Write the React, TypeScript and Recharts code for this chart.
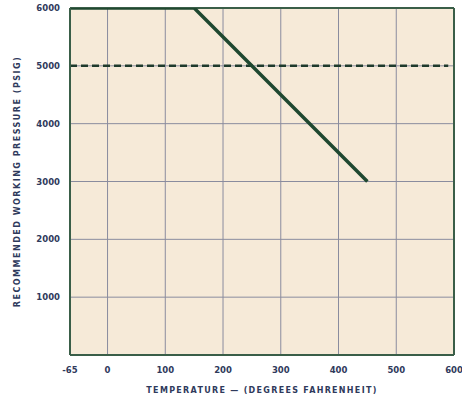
import React from 'react';
import { LineChart, Line, XAxis, YAxis, CartesianGrid, Label, ReferenceLine } from 'recharts';

// Temperature (°F) ticks and pressure (psig) ticks
const temperatureTicks = [-65, 0, 100, 200, 300, 400, 500, 600];
const pressureTicks = [1000, 2000, 3000, 4000, 5000, 6000];

// Recommended working pressure curve
const curveTemps = [-65, 150, 450];
const curvePressures = [6000, 6000, 3000];

// Dashed rated pressure line
const ratedTemps = [-65, 590];
const ratedPressures = [5000, 5000];

const curveData = curveTemps.map((t, i) => ({ t, p: curvePressures[i] }));
const ratedData = ratedTemps.map((t, i) => ({ t, p: ratedPressures[i] }));

const textColor = '#2f3a5c';
const frameColor = '#3a5e48';
const tickStyle = { fontFamily: 'DejaVu Sans', fontSize: 8.5, fontWeight: 'bold', fill: textColor };

export default function App() {
  return (
    <div style={{ position: 'absolute', left: 0, top: 0, width: 462, height: 398, background: '#fff' }}>
      <LineChart width={462} height={398} margin={{ top: 8, right: 8, left: 0, bottom: 0 }}>
        <CartesianGrid
          stroke="#8a8c9e"
          strokeWidth={1}
          fill="#f6ead8"
          horizontalValues={[1000, 2000, 3000, 4000, 5000]}
          verticalValues={[0, 100, 200, 300, 400, 500]}
        />
        <XAxis
          type="number"
          dataKey="t"
          domain={[-65, 600]}
          ticks={temperatureTicks}
          allowDataOverflow
          height={43}
          axisLine={{ stroke: frameColor, strokeWidth: 2 }}
          tickLine={false}
          tick={tickStyle}
          tickMargin={6}
        >
          <Label
            value="TEMPERATURE — (DEGREES FAHRENHEIT)"
            position="insideBottom"
            offset={5}
            style={{ fontFamily: 'DejaVu Sans', fontSize: 8, fontWeight: 'bold', letterSpacing: 1.3, fill: textColor }}
          />
        </XAxis>
        <YAxis
          type="number"
          domain={[0, 6000]}
          ticks={pressureTicks}
          allowDataOverflow
          width={70}
          axisLine={{ stroke: frameColor, strokeWidth: 2 }}
          tickLine={false}
          tick={tickStyle}
          tickMargin={4}
        >
          <Label
            value="RECOMMENDED WORKING PRESSURE (PSIG)"
            angle={-90}
            position="insideLeft"
            offset={17}
            style={{ textAnchor: 'middle', fontFamily: 'DejaVu Sans', fontSize: 8, fontWeight: 'bold', letterSpacing: 1.5, fill: textColor }}
          />
        </YAxis>
        {/* frame on top and right */}
        <ReferenceLine y={6000} stroke={frameColor} strokeWidth={2} />
        <ReferenceLine x={600} stroke={frameColor} strokeWidth={2} />
        <Line
          data={ratedData}
          dataKey="p"
          type="linear"
          stroke="#1e3a2c"
          strokeWidth={2.5}
          strokeDasharray="7 4"
          dot={false}
          isAnimationActive={false}
        />
        <Line
          data={curveData}
          dataKey="p"
          type="linear"
          stroke="#1f4830"
          strokeWidth={3.5}
          dot={false}
          isAnimationActive={false}
        />
      </LineChart>
    </div>
  );
}
